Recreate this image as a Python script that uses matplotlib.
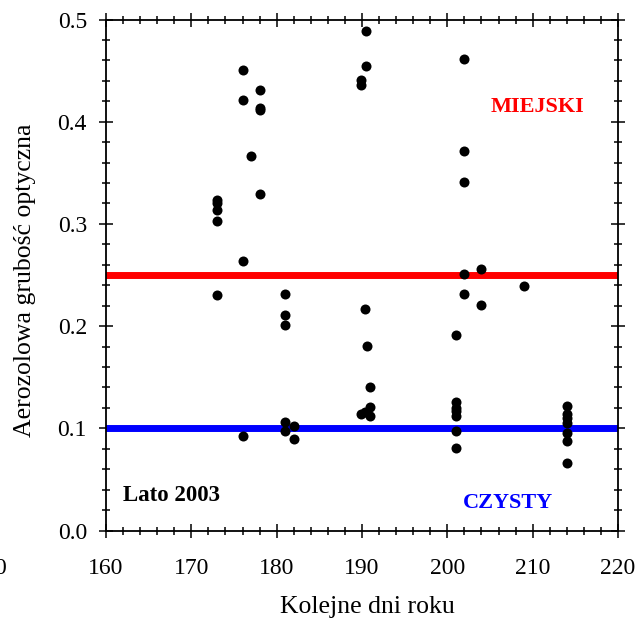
import numpy as np
import matplotlib
matplotlib.use("Agg")
import matplotlib.pyplot as plt
from matplotlib.ticker import MultipleLocator

plt.rcParams['font.family'] = ['Liberation Serif', 'DejaVu Serif']

# Aerosol optical depth measurements, summer 2003 (day of year, AOD)
days = [173, 173, 173, 173, 173,
        176, 176, 176, 176,
        177,
        178, 178, 178, 178,
        181, 181, 181, 181, 181, 182, 182,
        189.9, 189.9, 190.5, 190.5,
        190.3, 190.6, 190.9, 190.9, 189.9, 190.9, 190.4,
        201, 201, 201, 201, 201, 201, 201,
        202, 202, 202, 202, 202,
        204, 204, 209,
        214, 214, 214, 214, 214, 214, 214]
aod = [0.323, 0.320, 0.314, 0.303, 0.230,
       0.451, 0.421, 0.264, 0.092,
       0.366,
       0.431, 0.413, 0.411, 0.329,
       0.231, 0.211, 0.201, 0.106, 0.097, 0.102, 0.090,
       0.441, 0.436, 0.489, 0.455,
       0.217, 0.181, 0.140, 0.121, 0.114, 0.112, 0.116,
       0.191, 0.126, 0.120, 0.112, 0.097, 0.081, 0.117,
       0.461, 0.371, 0.341, 0.251, 0.231,
       0.256, 0.221, 0.239,
       0.122, 0.114, 0.110, 0.105, 0.095, 0.088, 0.066]

# reference levels for urban and clean air
urban_level = 0.25
clean_level = 0.10

fig = plt.figure(figsize=(6.4, 6.22), dpi=100)
ax = fig.add_axes([0.1656, 0.1471, 0.8, 0.8215])

ax.axhline(urban_level, color='#ff0000', linewidth=5, zorder=2)
ax.axhline(clean_level, color='#0000ff', linewidth=5, zorder=2)
ax.scatter(days, aod, s=52, color='black', zorder=3, linewidths=0)

ax.set_xlim(160, 220)
ax.set_ylim(0.0, 0.5)
ax.xaxis.set_major_locator(MultipleLocator(10))
ax.xaxis.set_minor_locator(MultipleLocator(2))
ax.yaxis.set_major_locator(MultipleLocator(0.1))
ax.yaxis.set_minor_locator(MultipleLocator(0.02))
ax.yaxis.set_major_formatter(plt.FormatStrFormatter('%.1f'))

ax.tick_params(which='both', direction='inout', top=True, right=True,
               labeltop=False, labelright=False, width=1.1, color='black')
ax.tick_params(which='major', length=9.5, labelsize=17)
ax.tick_params(which='minor', length=6)
ax.tick_params(axis='x', which='major', pad=15)
ax.tick_params(axis='y', which='major', pad=9)
for sp in ax.spines.values():
    sp.set_linewidth(1.3)

ax.set_xlabel('Kolejne dni roku', fontsize=18.5)
ax.set_ylabel('Aerozolowa grubość optyczna', fontsize=18.5)
ax.xaxis.set_label_coords(0.51, -0.128)
ax.yaxis.set_label_coords(-0.137, 0.49)

ax.text(205.1, 0.414, 'MIEJSKI', color='#ff0000', fontsize=16,
        fontweight='bold', va='center', ha='left')
ax.text(201.8, 0.027, 'CZYSTY', color='#0000ff', fontsize=16,
        fontweight='bold', va='center', ha='left')
ax.text(162.0, 0.034, 'Lato 2003', color='black', fontsize=16.5,
        fontweight='bold', va='center', ha='left')

fig.text(0.0, 1 - 568 / 622, '0', fontsize=17, ha='center', va='center')

fig.savefig('out.png', dpi=100, facecolor='white')
